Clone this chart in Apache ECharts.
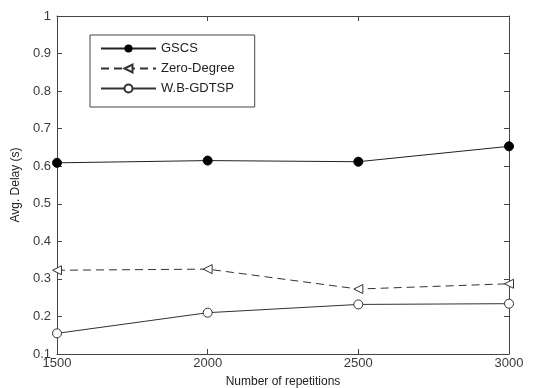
<!DOCTYPE html>
<html>
<head>
<meta charset="utf-8">
<script src="https://cdn.jsdelivr.net/npm/echarts@6/dist/echarts.min.js"></script>
<style>
  html, body { margin: 0; padding: 0; background: #fff; }
  #chart { width: 550px; height: 388px; }
</style>
</head>
<body>
<div id="chart"></div>
<script>
// Number of repetitions on the x axis
const repetitions = [1500, 2000, 2500, 3000];
// Average delay (s) per method
const gscs = [0.609, 0.615, 0.612, 0.653];
const zeroDegree = [0.323, 0.326, 0.273, 0.287];
const wbGdtsp = [0.155, 0.210, 0.232, 0.234];
const seriesNames = ['GSCS', 'Zero-Degree', 'W.B-GDTSP'];

const toPairs = (ys) => repetitions.map((x, i) => [x, ys[i]]);

const font = 'Liberation Sans, Arial, sans-serif';
const axisLine = { show: true, lineStyle: { color: '#444', width: 1 } };
const tickIn = { show: true, inside: true, length: 5, lineStyle: { color: '#444' } };
const labelStyle = { color: '#3a3a3a', fontFamily: font, fontSize: 13 };

const chart = echarts.init(document.getElementById('chart'));
chart.setOption({
  animation: false,
  backgroundColor: '#fff',
  grid: { left: 57, right: 41, top: 16, bottom: 34, containLabel: false, outerBoundsMode: 'none' },
  legend: {
    left: 90, top: 35,
    orient: 'vertical',
    padding: [7, 20, 12, 10],
    itemGap: 7,
    itemWidth: 55, itemHeight: 10,
    borderColor: '#444', borderWidth: 1,
    backgroundColor: '#fff',
    textStyle: { color: '#222', fontFamily: font, fontSize: 13 },
    data: seriesNames
  },
  xAxis: [
    {
      type: 'value', min: 1500, max: 3000, interval: 500,
      position: 'bottom',
      name: 'Number of repetitions', nameLocation: 'middle', nameGap: 22,
      nameTextStyle: { color: '#222', fontFamily: font, fontSize: 12 },
      axisLine: axisLine, axisTick: tickIn,
      axisLabel: Object.assign({ margin: 3, formatter: (v) => String(v) }, labelStyle),
      splitLine: { show: false }
    },
    {
      type: 'value', min: 1500, max: 3000, interval: 500,
      position: 'top',
      axisLine: axisLine, axisTick: tickIn,
      axisLabel: { show: false }, splitLine: { show: false }
    }
  ],
  yAxis: [
    {
      type: 'value', min: 0.1, max: 1, interval: 0.1,
      position: 'left',
      name: 'Avg. Delay (s)', nameLocation: 'middle', nameGap: 31, nameRotate: 90,
      nameTextStyle: { color: '#222', fontFamily: font, fontSize: 12 },
      axisLine: axisLine, axisTick: tickIn,
      axisLabel: Object.assign({
        margin: 6,
        formatter: (v) => String(Math.round(v * 10) / 10)
      }, labelStyle),
      splitLine: { show: false }
    },
    {
      type: 'value', min: 0.1, max: 1, interval: 0.1,
      position: 'right',
      axisLine: axisLine, axisTick: tickIn,
      axisLabel: { show: false }, splitLine: { show: false }
    }
  ],
  series: [
    {
      name: seriesNames[0], type: 'line', data: toPairs(gscs),
      symbol: 'circle', symbolSize: 9,
      lineStyle: { color: '#222', width: 1 },
      itemStyle: { color: '#000', borderColor: '#000' }
    },
    {
      name: seriesNames[1], type: 'line', data: toPairs(zeroDegree),
      symbol: 'triangle', symbolRotate: 90, symbolSize: 9,
      lineStyle: { color: '#333', width: 1, type: [8, 5] },
      itemStyle: { color: '#fff', borderColor: '#333', borderWidth: 1 }
    },
    {
      name: seriesNames[2], type: 'line', data: toPairs(wbGdtsp),
      symbol: 'circle', symbolSize: 9,
      lineStyle: { color: '#333', width: 1 },
      itemStyle: { color: '#fff', borderColor: '#333', borderWidth: 1 }
    }
  ]
});
</script>
</body>
</html>
